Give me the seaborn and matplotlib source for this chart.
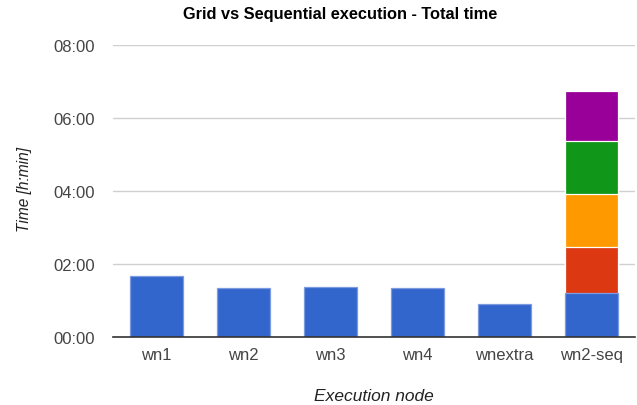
import matplotlib
matplotlib.use("Agg")
import matplotlib.pyplot as plt
from matplotlib.ticker import FuncFormatter
import seaborn as sns
import pandas as pd

# ---- data (hours) ----
nodes = ["wn1", "wn2", "wn3", "wn4", "wnextra", "wn2-seq"]
grid_totals = [1.67, 1.34, 1.37, 1.34, 0.90]          # wn1..wnextra
seq_segments = [1.21, 1.26, 1.45, 1.46, 1.35]          # stacked parts of wn2-seq
segment_colors = ["#3366cc", "#dc3912", "#ff9900", "#109618", "#990099"]
y_ticks = [0, 2, 4, 6, 8]

title = "Grid vs Sequential execution - Total time"
xlabel = "Execution node"
ylabel = "Time [h:min]"

# build long table: level 0 holds all simple bars and first seq segment
rows = []
for n, v in zip(nodes[:-1], grid_totals):
    rows.append({"node": n, "level": 0, "top": v})
cum = 0.0
for i, v in enumerate(seq_segments):
    cum += v
    rows.append({"node": nodes[-1], "level": i, "top": cum})
df = pd.DataFrame(rows)

sns.set_theme(style="white")
plt.rcParams["font.family"] = ["Liberation Sans", "DejaVu Sans"]

fig = plt.figure(figsize=(6.37, 4.06), dpi=100)
ax = fig.add_axes([113 / 637, 1 - 338 / 406, (635 - 113) / 637, (338 - 46) / 406])

for lvl in sorted(df["level"].unique(), reverse=True):
    sub = df[df["level"] == lvl]
    edge = "#ffffff" if lvl > 0 else "#7d9ae0"
    sns.barplot(data=sub, x="node", y="top", order=nodes, color=segment_colors[lvl],
                saturation=1, width=0.62, edgecolor=edge, linewidth=0.9, ax=ax,
                errorbar=None, zorder=3)

ax.set_ylim(0, 8)
ax.set_xlim(-0.5, len(nodes) - 0.5)
ax.set_yticks(y_ticks)
ax.yaxis.set_major_formatter(FuncFormatter(lambda v, p: f"{int(v):02d}:{int(round((v - int(v)) * 60)):02d}"))
ax.grid(axis="y", color="#d0d0d0", linewidth=1, zorder=0)
ax.set_axisbelow(True)
for s in ["top", "right", "left"]:
    ax.spines[s].set_visible(False)
ax.spines["bottom"].set_color("#333333")
ax.spines["bottom"].set_linewidth(1.2)
ax.spines["bottom"].set_zorder(5)
ax.tick_params(axis="both", length=0, labelsize=12, labelcolor="#444444")
ax.tick_params(axis="y", pad=13)
ax.tick_params(axis="x", pad=7)

ax.set_xlabel(xlabel, fontsize=12.5, style="italic", color="#222222", labelpad=19)
ax.set_ylabel(ylabel, fontsize=11.2, style="italic", color="#222222")
ax.yaxis.set_label_coords(-0.155, (338 - 190) / 292)
fig.text(340 / 637, 1 - 15 / 406, title, ha="center", va="center",
         fontsize=11.8, fontweight="bold", color="#000000")

fig.savefig("out.png", dpi=100)
